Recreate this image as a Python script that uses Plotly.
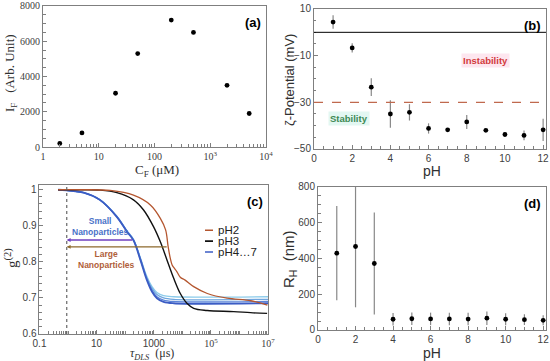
import plotly.graph_objects as go
import numpy as np

# ---------------- data ----------------
# (a) fluorescence intensity vs concentration
cf_um = [2, 5, 20, 50, 200, 500, 2000, 5000]
if_au = [200, 800, 3050, 5300, 7200, 6500, 3500, 1900]

# (b) zeta potential vs pH
ph = [1, 2, 3, 4, 5, 6, 7, 8, 9, 10, 11, 12]
zeta_mv = [4.4, -6.7, -23.5, -35, -34.3, -41.2, -41.8, -38.4, -42, -43.8, -44.2, -41.8]
zeta_err = [2.9, 2.0, 3.8, 5.9, 3.5, 2.2, 0.6, 3.0, 0.6, 1.0, 2.1, 4.8]

# (c) DLS correlation functions
tau_ph2 = [0.45, 3, 30, 195, 760, 1700, 2600, 3200, 3800, 4400, 5000, 6500, 8500, 12500, 25000, 75000, 370000, 2500000, 9500000]
g2_ph2 = [0.999, 0.999, 0.997, 0.984, 0.957, 0.92, 0.888, 0.841, 0.809, 0.791, 0.784, 0.772, 0.757, 0.749, 0.731, 0.712, 0.699, 0.692, 0.680]
tau_ph3 = [0.45, 3, 13, 51, 195, 440, 980, 1700, 2900, 5000, 8500, 14500, 25000, 74000, 630000, 2450000, 9300000]
g2_ph3 = [0.999, 0.999, 0.998, 0.991, 0.971, 0.943, 0.897, 0.855, 0.805, 0.754, 0.712, 0.685, 0.671, 0.665, 0.662, 0.659, 0.657]
tau_ph4 = [0.45, 3.5, 13, 51, 115, 195, 340, 575, 870, 1290, 2200, 5000, 10000000]
g2_ph4 = [0.999, 0.991, 0.971, 0.924, 0.883, 0.859, 0.805, 0.749, 0.717, 0.699, 0.689, 0.685, 0.685]
g2_ph5 = [0.999, 0.991, 0.971, 0.924, 0.884, 0.860, 0.807, 0.752, 0.721, 0.703, 0.694, 0.690, 0.690]
g2_ph6 = [0.999, 0.991, 0.971, 0.925, 0.885, 0.861, 0.809, 0.755, 0.726, 0.709, 0.700, 0.696, 0.696]
g2_ph7 = [0.999, 0.991, 0.972, 0.926, 0.886, 0.862, 0.811, 0.759, 0.731, 0.715, 0.706, 0.703, 0.703]
tau_cut = 0.9

# (d) hydrodynamic radius vs pH
rh_nm = [430, 467, 372, 60, 63, 62, 62, 61, 66, 60, 58, 54]
rh_err = [264, 340, 285, 35, 35, 35, 35, 35, 38, 33, 30, 28]

# ---------------- figure ----------------
fig = go.Figure()
mk = dict(color="black", size=4.8)
ebar_col = "#888888"

fig.add_trace(go.Scatter(x=cf_um, y=if_au, mode="markers", marker=mk, xaxis="x", yaxis="y", showlegend=False))
fig.add_trace(go.Scatter(x=ph, y=zeta_mv, mode="markers", marker=mk, xaxis="x2", yaxis="y2", showlegend=False,
                         error_y=dict(type="data", array=zeta_err, color=ebar_col, thickness=1.2, width=0)))

blue_cols = {"pH4": "#3b5cc4", "pH5": "#5a84d8", "pH6": "#6fa6de", "pH7": "#8ccbea"}
fig.add_trace(go.Scatter(x=tau_ph4, y=g2_ph7, mode="lines", line=dict(color=blue_cols["pH7"], width=1.3, shape="spline"), xaxis="x3", yaxis="y3", showlegend=False))
fig.add_trace(go.Scatter(x=tau_ph4, y=g2_ph6, mode="lines", line=dict(color=blue_cols["pH6"], width=1.3, shape="spline"), xaxis="x3", yaxis="y3", showlegend=False))
fig.add_trace(go.Scatter(x=tau_ph4, y=g2_ph5, mode="lines", line=dict(color=blue_cols["pH5"], width=1.3, shape="spline"), xaxis="x3", yaxis="y3", showlegend=False))
fig.add_trace(go.Scatter(x=tau_ph4, y=g2_ph4, mode="lines", line=dict(color=blue_cols["pH4"], width=1.8, shape="spline"), xaxis="x3", yaxis="y3", showlegend=False))
fig.add_trace(go.Scatter(x=tau_ph3, y=g2_ph3, mode="lines", line=dict(color="#111111", width=1.4, shape="spline"), xaxis="x3", yaxis="y3", showlegend=False))
fig.add_trace(go.Scatter(x=tau_ph2, y=g2_ph2, mode="lines", line=dict(color="#b4562f", width=1.3, shape="spline"), xaxis="x3", yaxis="y3", showlegend=False))

fig.add_trace(go.Scatter(x=ph, y=rh_nm, mode="markers", marker=mk, xaxis="x4", yaxis="y4", showlegend=False,
                         error_y=dict(type="data", array=rh_err, color=ebar_col, thickness=1.2, width=0)))

axcol = "#7f7f7f"
sans = "Liberation Sans, Arial, sans-serif"
serif = "Liberation Serif, Times New Roman, serif"
tickfont_sans = dict(family=sans, size=10, color="#404040")
tickfont_serif = dict(family=serif, size=10, color="#404040")

def ax(**kw):
    base = dict(showline=True, linecolor=axcol, linewidth=1, mirror=True, ticks="inside", ticklen=4,
                tickcolor=axcol, showgrid=False, zeroline=False)
    base.update(kw)
    return base

fig.update_layout(
    width=550, height=361, margin=dict(l=0, r=0, t=0, b=0, autoexpand=False),
    paper_bgcolor="white", plot_bgcolor="white",
    xaxis=ax(domain=[0.0782, 0.4836], type="log", range=[0, 4], anchor="y",
             tickmode="array", tickvals=[1, 10, 100, 1000, 10000],
             ticktext=["1", "10", "100", "10<sup>3</sup>", "10<sup>4</sup>"], tickfont=tickfont_serif,
             minor=dict(ticks="inside", ticklen=2.5, tickcolor=axcol, dtick="D1")),
    yaxis=ax(domain=[0.5928, 0.9834], range=[0, 8000], anchor="x", dtick=2000, tickfont=tickfont_serif,
             minor=dict(ticks="inside", ticklen=2.5, tickcolor=axcol, dtick=500)),
    xaxis2=ax(domain=[0.5709, 0.9927], range=[0, 12.15], anchor="y2", dtick=2, tickfont=tickfont_sans,
              minor=dict(ticks="inside", ticklen=2.5, tickcolor=axcol, dtick=0.5)),
    yaxis2=ax(domain=[0.5873, 0.9751], range=[-50, 10], anchor="x2", tickmode="array", tickvals=[10, -10, -30, -50],
              tickfont=tickfont_sans, minor=dict(ticks="inside", ticklen=2.5, tickcolor=axcol, dtick=5)),
    xaxis3=ax(domain=[0.0718, 0.4873], type="log", range=[-1, 7], anchor="y3",
              tickmode="array", tickvals=[0.1, 10, 1000, 1e5, 1e7],
              ticktext=["0.1", "10", "1000", "<span style='font-family:Liberation Serif'>10<sup>5</sup></span>",
                        "<span style='font-family:Liberation Serif'>10<sup>7</sup></span>"], tickfont=tickfont_sans,
              minor=dict(ticks="inside", ticklen=2.5, tickcolor=axcol, dtick="D1")),
    yaxis3=ax(domain=[0.0748, 0.4889], range=[0.6, 1.0135], anchor="x3", tickmode="array",
              tickvals=[0.6, 0.7, 0.8, 0.9, 1.0], ticktext=["0.6", "0.7", "0.8", "0.9", "1"], tickfont=tickfont_sans,
              minor=dict(ticks="inside", ticklen=2.5, tickcolor=axcol, dtick=0.02)),
    xaxis4=ax(domain=[0.5782, 0.9927], range=[0, 12.15], anchor="y4", dtick=2, tickfont=tickfont_sans,
              minor=dict(ticks="inside", ticklen=2.5, tickcolor=axcol, dtick=0.5)),
    yaxis4=ax(domain=[0.0859, 0.482], range=[0, 800], anchor="x4", dtick=200, tickfont=tickfont_sans,
              minor=dict(ticks="inside", ticklen=2.5, tickcolor=axcol, dtick=50)),
)

# axis titles (placed as text to mirror the reference positions)
titles = [
    ("I<sub>F</sub>   (Arb. Unit)", 10, 73, -90, serif, 13),
    ("C<sub>F</sub> (μM)", 157, 171, 0, serif, 13),
    ("ζ-Potential (mV)", 289, 80, -90, sans, 13),
    ("pH", 432, 171, 0, sans, 14),
    ("g<sup>(2)</sup>", 11, 258, -90, serif, 15),
    ("<i>τ<sub>DLS</sub></i>  (μs)", 152, 354, 0, serif, 12),
    ("R<sub>H</sub>  (nm)", 289, 259, -90, sans, 15),
    ("pH", 432, 353, 0, sans, 14),
]
for txt, px, py, ang, fam, sz in titles:
    fig.add_annotation(text=txt, xref="paper", yref="paper", x=px / 550, y=1 - py / 361, textangle=ang,
                       showarrow=False, xanchor="center", yanchor="middle",
                       font=dict(family=fam, size=sz, color="#303030"))

# reference lines in (b) and cut-off line in (c)
fig.add_shape(type="line", xref="x2 domain", yref="y2", x0=0, x1=1, y0=0, y1=0,
              line=dict(color="black", width=1))
fig.add_shape(type="line", xref="x2 domain", yref="y2", x0=0, x1=1, y0=-30, y1=-30,
              line=dict(color="#c0694e", width=1.2, dash="dash"))
fig.add_shape(type="line", xref="x3", yref="y3 domain", x0=tau_cut, x1=tau_cut, y0=0, y1=1,
              line=dict(color="#666666", width=1.2, dash="dot"))

# panel tags
for txt, xr, yr in [("(a)", "x domain", "y domain"), ("(b)", "x2 domain", "y2 domain"),
                    ("(c)", "x3 domain", "y3 domain"), ("(d)", "x4 domain", "y4 domain")]:
    fig.add_annotation(text=txt, xref=xr, yref=yr, x=0.985, y=0.95, xanchor="right", yanchor="top",
                       showarrow=False, font=dict(family=sans, size=13, color="black", weight="bold"))

# (b) region labels
fig.add_annotation(text="Instability", x=9, y=-12, xref="x2", yref="y2", showarrow=False,
                   font=dict(family=sans, size=9.5, color="#d23b3b", weight="bold"), bgcolor="#fde6ef")
fig.add_annotation(text="Stability", x=1.85, y=-37, xref="x2", yref="y2", showarrow=False,
                   font=dict(family=sans, size=9.5, color="#3f8a55", weight="bold"), bgcolor="#e3f7f2")

# (c) arrows and labels
fig.add_annotation(x=np.log10(tau_cut), y=0.86, ax=np.log10(200), ay=0.86, xref="x3", yref="y3",
                   axref="x3", ayref="y3", showarrow=True, arrowhead=2, arrowsize=0.6, arrowwidth=1.3,
                   arrowcolor="#7040c0", text="")
fig.add_annotation(x=np.log10(tau_cut), y=0.841, ax=np.log10(3200), ay=0.841, xref="x3", yref="y3",
                   axref="x3", ayref="y3", showarrow=True, arrowhead=2, arrowsize=0.6, arrowwidth=1.3,
                   arrowcolor="#8d6a2c", text="")
fig.add_annotation(text="Small<br>Nanoparticles", x=1.12, y=0.897, xref="x3", yref="y3", showarrow=False,
                   font=dict(family=sans, size=8.5, color="#4a72c8", weight="bold"))
fig.add_annotation(text="Large<br>Nanoparticles", x=1.33, y=0.805, xref="x3", yref="y3", showarrow=False,
                   font=dict(family=sans, size=8.5, color="#b0603a", weight="bold"))

# (c) legend
leg = [("pH2", "#b4562f", 0.887), ("pH3", "#111111", 0.857), ("pH4…7", "#3b5cc4", 0.827)]
for name, col, yy in leg:
    fig.add_shape(type="line", xref="paper", yref="y3", x0=205/550, x1=213/550, y0=yy, y1=yy,
                  line=dict(color=col, width=1.6))
    fig.add_annotation(text=name, xref="paper", yref="y3", x=216/550, y=yy, xanchor="left", showarrow=False,
                       font=dict(family=sans, size=11.5, color="#222"))

fig.write_html("out.html", config={"displayModeBar": False},
               post_script="document.body.style.margin='0';document.body.style.padding='0';")
